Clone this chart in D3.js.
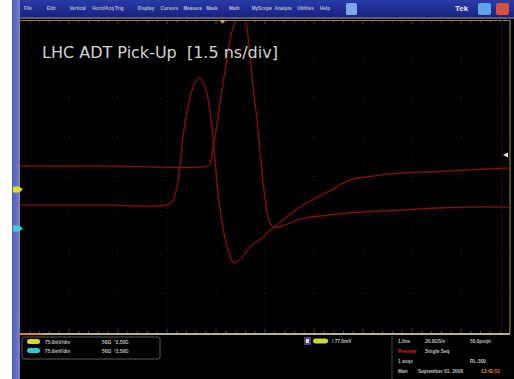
<!DOCTYPE html>
<html>
<head>
<meta charset="utf-8">
<script src="https://cdn.jsdelivr.net/npm/d3@7"></script>
<style>
  body { margin: 0; background: #fff; overflow: hidden; }
  svg { display: block; font-family: "Liberation Sans", Arial, sans-serif; }
</style>
</head>
<body>
<div id="scope"></div>
<script>
// ---- data ----
// time in ns (1.5 ns/div, 10 div), amplitude in divisions (8 div)
const timeRange = [0, 15]
const voltRange = [-4, 4]
const hDivs = 10, vDivs = 8

// upper baseline trace (tall peak)
const ch1Trace = [
  [0, 0.27], [2.5, 0.27], [5.66, 0.25], [5.79, 0.29], [5.91, 0.75], [6.03, 1.32],
  [6.12, 1.88], [6.28, 2.72], [6.43, 3.49], [6.58, 3.95], [6.74, 4.15], [6.89, 4.0],
  [7.01, 3.36], [7.13, 2.29], [7.26, 1.44], [7.35, 0.6], [7.47, -0.35], [7.59, -1.04],
  [7.71, -1.27], [7.9, -1.29], [8.27, -1.19], [8.57, -1.09], [9.49, -0.98],
  [10.41, -0.91], [11.63, -0.86], [12.64, -0.81], [13.78, -0.78], [15, -0.78]
]

// lower baseline trace (small peak)
const ch2Trace = [
  [0, -0.73], [2.5, -0.73], [4.44, -0.73], [4.65, -0.65], [4.84, -0.09], [4.99, 1.01],
  [5.14, 1.78], [5.3, 2.29], [5.48, 2.52], [5.66, 2.29], [5.82, 1.65], [5.97, 0.42],
  [6.06, -0.42], [6.21, -1.29], [6.37, -1.88], [6.55, -2.21], [6.79, -2.08],
  [7.04, -1.8], [7.41, -1.57], [7.74, -1.32], [8.57, -0.78], [9.4, -0.4],
  [10.1, -0.09], [10.62, -0.01], [11.63, 0.09], [12.64, 0.12], [13.78, 0.17], [15, 0.22]
]

const title = "LHC ADT Pick-Up  [1.5 ns/div]"
const menuItems = ["File", "Edit", "Vertical", "Horiz/Acq", "Trig", "Display", "Cursors",
  "Measure", "Mask", "Math", "MyScope", "Analyze", "Utilities", "Help"]
const chanRows = [
  { color: "#d8d820", label: "75.0mV/div", term: "50\u03A9", bw: "\u00AA2.50G" },
  { color: "#30c8d8", label: "75.0mV/div", term: "50\u03A9", bw: "\u00AA2.50G" }
]
const trigText = "/ 77.0mV"
const acqRows = [
  ["1.0ns", "20.0GS/s", "50.0ps/pt"],
  ["Preview", "Single Seq", ""],
  ["1 acqs", "", "RL:300"],
  ["Man", "September 01, 2008", "13:42:51"]
]

// ---- layout ----
const W = 514, H = 379
const plot = { left: 20, right: 510, top: 20, bottom: 333 }

const svg = d3.select("#scope")
  .append("svg")
  .attr("width", W)
  .attr("height", H)

// background pieces
svg.append("rect").attr("width", W).attr("height", H).attr("fill", "#000")
svg.append("rect").attr("x", 0).attr("width", 12).attr("height", H).attr("fill", "#fdfdfd")

const blue = svg.append("defs").append("linearGradient")
  .attr("id", "bar").attr("x1", 0).attr("x2", 0).attr("y1", 0).attr("y2", 1)
blue.append("stop").attr("offset", 0).attr("stop-color", "#2a3aa8")
blue.append("stop").attr("offset", 1).attr("stop-color", "#16227a")

const side = svg.select("defs").append("linearGradient")
  .attr("id", "side").attr("x1", 0).attr("x2", 1)
side.append("stop").attr("offset", 0).attr("stop-color", "#4a5ac8")
side.append("stop").attr("offset", 1).attr("stop-color", "#7a82c0")

svg.append("rect").attr("x", 12).attr("y", 0).attr("width", W - 12).attr("height", 18).attr("fill", "url(#bar)")
svg.append("rect").attr("x", 12).attr("y", 0).attr("width", 8).attr("height", H).attr("fill", "url(#side)")
svg.append("rect").attr("x", 20).attr("y", 17).attr("width", W - 20).attr("height", 2).attr("fill", "#5a5a78")

// menu text (tiny)
const menuX = d3.scalePoint().domain(menuItems).range([24, 320])
svg.append("g").selectAll("text")
  .data(menuItems)
  .join("text")
  .attr("x", d => menuX(d))
  .attr("y", 10)
  .attr("font-size", 4.6)
  .attr("font-weight", "bold")
  .attr("fill", "#b8bcd8")
  .text(d => d)
svg.append("rect").attr("x", 346).attr("y", 3).attr("width", 11).attr("height", 12).attr("rx", 1.5).attr("fill", "#7fa6e6")
svg.append("text").attr("x", 455).attr("y", 11).attr("font-size", 8).attr("font-weight", "bold")
  .attr("fill", "#e8e8f4").text("Tek")
svg.append("rect").attr("x", 478).attr("y", 3).attr("width", 13).attr("height", 12).attr("rx", 2).attr("fill", "#5fa2ea")
svg.append("rect").attr("x", 496).attr("y", 3).attr("width", 13).attr("height", 12).attr("rx", 2).attr("fill", "#d9503e")

// ---- scales ----
const x = d3.scaleLinear().domain(timeRange).range([plot.left, plot.right])
const y = d3.scaleLinear().domain(voltRange).range([plot.bottom, plot.top])

// graticule (barely visible in the photo)
const grid = svg.append("g")
const xDiv = d3.range(1, hDivs).map(i => timeRange[0] + i * (timeRange[1] - timeRange[0]) / hDivs)
const yDiv = d3.range(1, vDivs).map(i => voltRange[0] + i * (voltRange[1] - voltRange[0]) / vDivs)
grid.selectAll("line.v")
  .data(xDiv)
  .join("line")
  .attr("class", "v")
  .attr("x1", d => x(d)).attr("x2", d => x(d))
  .attr("y1", plot.top).attr("y2", plot.bottom)
  .attr("stroke", "#1e1e16")
  .attr("stroke-width", 0.8)
  .attr("stroke-dasharray", "1,3")
grid.selectAll("line.h")
  .data(yDiv)
  .join("line")
  .attr("class", "h")
  .attr("x1", plot.left).attr("x2", plot.right)
  .attr("y1", d => y(d)).attr("y2", d => y(d))
  .attr("stroke", "#181818")
  .attr("stroke-width", 0.8)
  .attr("stroke-dasharray", "1,3")

// frame: top, bottom, sides
svg.append("line").attr("x1", plot.left).attr("x2", plot.right).attr("y1", plot.top + 0.5).attr("y2", plot.top + 0.5)
  .attr("stroke", "#8a8050").attr("stroke-width", 1)
svg.append("line").attr("x1", plot.left).attr("x2", plot.right).attr("y1", plot.bottom + 1).attr("y2", plot.bottom + 1)
  .attr("stroke", "#b8ae92").attr("stroke-width", 2)
svg.append("line").attr("x1", plot.left).attr("x2", plot.left + 22).attr("y1", plot.bottom + 1).attr("y2", plot.bottom + 1)
  .attr("stroke", "#d08a40").attr("stroke-width", 2)
svg.append("line").attr("x1", plot.left - 0.5).attr("x2", plot.left - 0.5).attr("y1", plot.top).attr("y2", plot.bottom)
  .attr("stroke", "#8a8a9a").attr("stroke-width", 1)
svg.append("line").attr("x1", plot.right).attr("x2", plot.right).attr("y1", plot.top).attr("y2", plot.bottom)
  .attr("stroke", "#8a7a40").attr("stroke-width", 1.2)
svg.append("line").attr("x1", 502).attr("x2", 502).attr("y1", plot.top).attr("y2", plot.bottom)
  .attr("stroke", "#2e0a0a").attr("stroke-width", 1)

// minor ticks along top and bottom edges
const minor = d3.range(0, hDivs * 5 + 1).map(i => timeRange[0] + i * (timeRange[1] - timeRange[0]) / (hDivs * 5))
svg.append("g").selectAll("line")
  .data(minor)
  .join("line")
  .attr("x1", d => x(d)).attr("x2", d => x(d))
  .attr("y1", plot.top + 1).attr("y2", (d, i) => plot.top + (i % 5 === 0 ? 4 : 2.5))
  .attr("stroke", "#6a6238").attr("stroke-width", 0.8)
svg.append("g").selectAll("line")
  .data(minor)
  .join("line")
  .attr("x1", d => x(d)).attr("x2", d => x(d))
  .attr("y1", plot.bottom).attr("y2", (d, i) => plot.bottom - (i % 5 === 0 ? 4 : 2.5))
  .attr("stroke", "#5a5444").attr("stroke-width", 0.8)

// ---- traces ----
svg.select("defs").append("clipPath").attr("id", "clip")
  .append("rect").attr("x", plot.left).attr("y", plot.top + 1)
  .attr("width", plot.right - plot.left).attr("height", plot.bottom - plot.top - 1)

const line = d3.line()
  .x(d => x(d[0]))
  .y(d => y(d[1]))
  .curve(d3.curveCatmullRom.alpha(0.5))

const traces = svg.append("g").attr("clip-path", "url(#clip)")
traces.selectAll("path.glow")
  .data([ch1Trace, ch2Trace])
  .join("path")
  .attr("class", "glow")
  .attr("d", line)
  .attr("fill", "none")
  .attr("stroke", "#3a0606")
  .attr("stroke-width", 2.6)
  .attr("opacity", 0.7)
traces.selectAll("path.core")
  .data([ch1Trace, ch2Trace])
  .join("path")
  .attr("class", "core")
  .attr("d", line)
  .attr("fill", "none")
  .attr("stroke", "#821818")
  .attr("stroke-width", 1)

// title
svg.append("text")
  .attr("x", 42)
  .attr("y", 58)
  .attr("font-family", "DejaVu Sans, sans-serif")
  .attr("font-size", 16)
  .attr("fill", "#d4d4d4")
  .style("white-space", "pre")
  .text(title)

// channel ground markers at left, trigger marks
const markerY = [ch1Trace[0][1] - 0.6, ch2Trace[0][1] - 0.6]
svg.append("g").selectAll("path")
  .data(markerY)
  .join("path")
  .attr("d", d => `M13,${y(d) - 3} h6 l4,3 l-4,3 h-6 z`)
  .attr("fill", (d, i) => i === 0 ? "#e6e020" : "#3ad0d6")
svg.append("path").attr("d", `M${x(6.2) - 3},${plot.top} h6 l-3,4 z`).attr("fill", "#e0a040")
svg.append("path").attr("d", `M508,${y(0.55) - 2.5} v5 l-5,-2.5 z`).attr("fill", "#e8e8e8")

// ---- bottom status panel ----
const panel = svg.append("g").attr("font-size", 4.8).attr("font-weight", "bold").attr("fill", "#c0c0c0")
panel.append("rect").attr("x", 22).attr("y", 337).attr("width", 138).attr("height", 22).attr("rx", 2)
  .attr("fill", "none").attr("stroke", "#5a5a5a").attr("stroke-width", 1)
chanRows.forEach((r, i) => {
  const yy = 342 + i * 9
  panel.append("rect").attr("x", 27).attr("y", yy - 3).attr("width", 13).attr("height", 5).attr("rx", 2.5).attr("fill", r.color)
  panel.append("text").attr("x", 45).attr("y", yy + 1.5).text(r.label)
  panel.append("text").attr("x", 102).attr("y", yy + 1.5).text(r.term)
  panel.append("text").attr("x", 114).attr("y", yy + 1.5).text(r.bw)
})
panel.append("rect").attr("x", 304).attr("y", 337).attr("width", 7).attr("height", 8).attr("fill", "#4a3a88")
panel.append("rect").attr("x", 306).attr("y", 339).attr("width", 3).attr("height", 4).attr("fill", "#ddd")
panel.append("rect").attr("x", 313).attr("y", 338.5).attr("width", 15).attr("height", 5).attr("rx", 2.5).attr("fill", "#c8d838")
panel.append("text").attr("x", 332).attr("y", 343).text(trigText)

panel.append("line").attr("x1", 392).attr("x2", 392).attr("y1", 336).attr("y2", 379).attr("stroke", "#444")
const acqCols = [398, 425, 470]
acqRows.forEach((row, i) => {
  const yy = 343 + i * 10
  row.forEach((t, j) => {
    if (!t) return
    const tx = panel.append("text").attr("x", acqCols[j]).attr("y", yy).text(t)
    if (i === 1 && j === 0) tx.attr("fill", "#e02020")
    if (i === 3 && j === 2) tx.attr("fill", "#d89030").attr("x", 481)
    if (i === 3 && j === 1) tx.attr("x", 418)
  })
})
</script>
</body>
</html>
